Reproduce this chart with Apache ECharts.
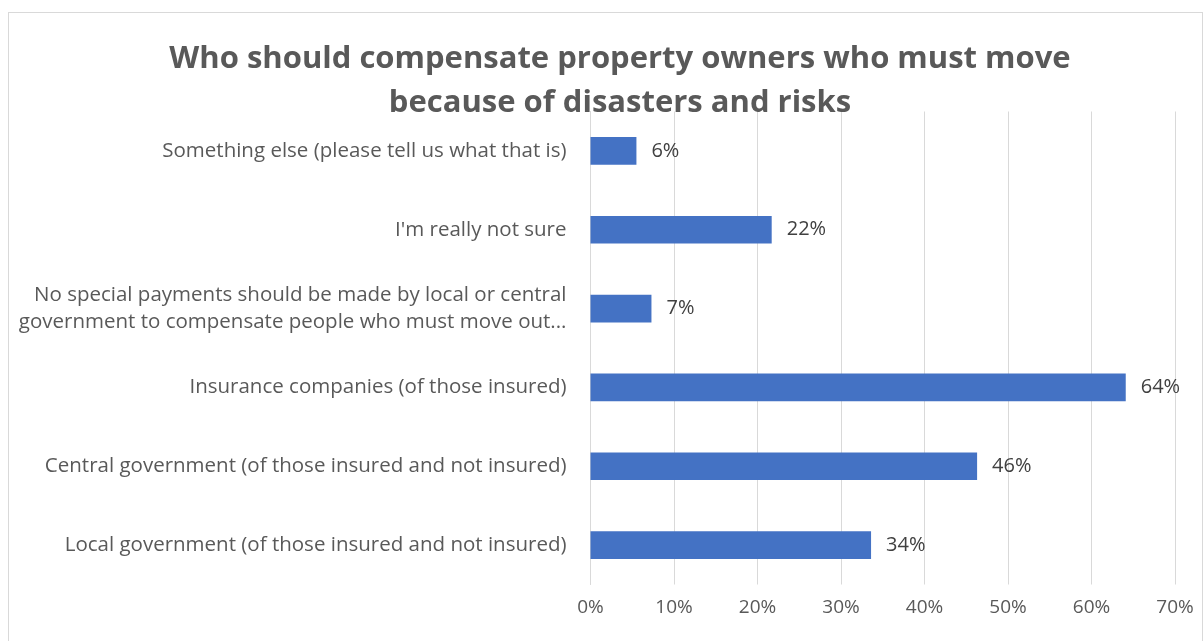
<!DOCTYPE html>
<html>
<head>
<meta charset="utf-8">
<script src="https://cdn.jsdelivr.net/npm/echarts@6/dist/echarts.min.js"></script>
<style>
html,body{margin:0;padding:0;background:#fff;overflow:hidden;}
#c{position:absolute;left:8px;top:12px;width:1195px;height:629px;border:1px solid #d9d9d9;border-bottom:none;box-sizing:border-box;}
</style>
</head>
<body>
<div id="c"></div>
<script>
const titleText = "Who should compensate property owners who must move\nbecause of disasters and risks";
const categories = [
  "Local government (of those insured and not insured)",
  "Central government (of those insured and not insured)",
  "Insurance companies (of those insured)",
  "No special payments should be made by local or central\ngovernment to compensate people who must move out...",
  "I'm really not sure",
  "Something else (please tell us what that is)"
];
const values = [33.6, 46.3, 64.1, 7.3, 21.7, 5.5];
const tickLabels = ["0%", "10%", "20%", "30%", "40%", "50%", "60%", "70%"];

const chart = echarts.init(document.getElementById('c'));
chart.setOption({
  animation: false,
  title: {
    text: titleText,
    left: 606, top: 19, textAlign: 'center',
    textStyle: {fontFamily: 'Open Sans', fontWeight: 'bold', fontSize: 31, color: '#595959', lineHeight: 44}
  },
  grid: {left: 581.5, right: 27, top: 98.5, bottom: 56.5, containLabel: false, outerBoundsMode: 'none'},
  xAxis: {
    type: 'value', min: 0, max: 70, interval: 10,
    axisLine: {show: false}, axisTick: {show: false},
    splitLine: {lineStyle: {color: '#d9d9d9', width: 1}},
    axisLabel: {
      formatter: v => tickLabels[Math.round(v / 10)],
      fontFamily: 'Open Sans', fontSize: 19, color: '#595959', margin: 14
    }
  },
  yAxis: {
    type: 'category', data: categories,
    axisLine: {show: true, lineStyle: {color: '#d9d9d9'}}, axisTick: {show: false},
    axisLabel: {fontFamily: 'Open Sans', fontSize: 20.5, color: '#595959', margin: 24, lineHeight: 27}
  },
  series: [{
    type: 'bar', data: values, barCategoryGap: '65%',
    itemStyle: {color: '#4472C4'},
    label: {
      show: true, position: 'right', distance: 15,
      formatter: p => Math.round(p.value) + '%',
      fontFamily: 'Open Sans', fontSize: 20, color: '#404040'
    }
  }]
});
</script>
</body>
</html>
